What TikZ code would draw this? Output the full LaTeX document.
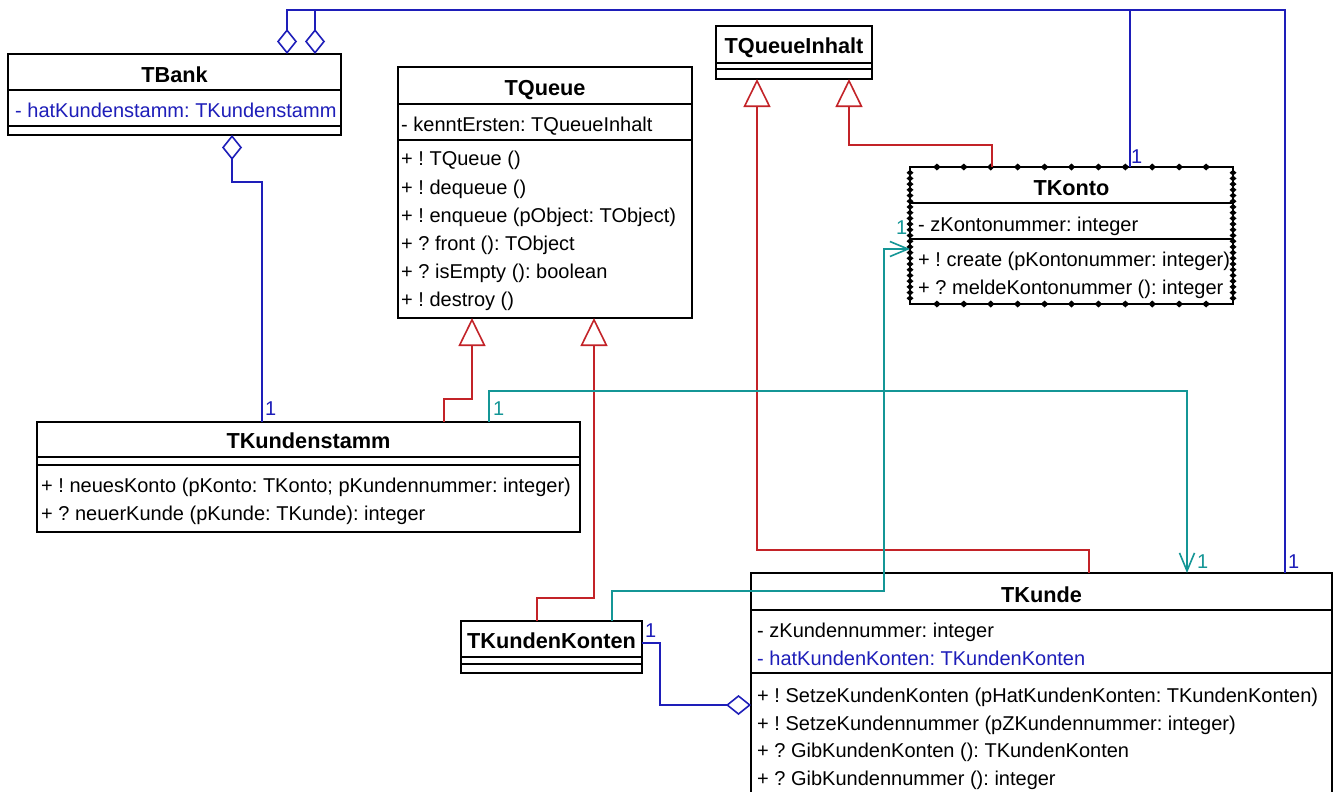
\documentclass[tikz,border=0pt]{standalone}
\usepackage{fontspec}
\setmainfont{Liberation Sans}
\usetikzlibrary{arrows.meta}
\definecolor{umlblue}{RGB}{30,30,185}
\definecolor{umlred}{RGB}{195,35,40}
\definecolor{umlteal}{RGB}{20,150,150}
\newcommand\umlrow{\fontsize{20}{24}\selectfont\frenchspacing}
\newcommand\umltitle{\fontsize{21.7}{26}\selectfont\bfseries}
\begin{document}
\frenchspacing
\begin{tikzpicture}[x=1pt,y=-1pt,
  classbox/.style={draw=black, line width=1.6pt, fill=white, inner sep=0pt, outer sep=0pt, anchor=north west},
  ttl/.style={font=\umltitle, anchor=base, inner sep=0pt},
  row/.style={font=\umlrow, anchor=base west, inner sep=0pt},
  blrow/.style={row, text=umlblue},
  mult/.style={font=\umlrow, anchor=base west, inner sep=0pt},
  sep/.style={line width=1.6pt},
  conn/.style={line width=1.6pt, line join=miter},
  aggr/.style={conn, umlblue, {Diamond[open,length=25pt,width=20pt]}-},
  gen/.style={conn, umlred, -{Triangle[open,length=28pt,width=27pt]}},
  nav/.style={conn, umlteal, -{Straight Barb[length=18pt,width=15pt]}}
]
\path[use as bounding box] (0,0) rectangle (1338,792);
\clip (0,0) rectangle (1338,792);
\fill[white] (0,0) rectangle (1338,792);

% ---------- TBank
\node[classbox, minimum width=333pt, minimum height=81pt] (tbank) at (8,54) {};
\draw[sep] ([yshift=-36pt]tbank.north west) -- ([yshift=-36pt]tbank.north east);
\draw[sep] ([yshift=-72pt]tbank.north west) -- ([yshift=-72pt]tbank.north east);
\node[ttl] (tbankT) at (174.5,82) {TBank};
\node[blrow] (tbankA1) at (15,117) {- hatKundenstamm: TKundenstamm};

% ---------- TQueue
\node[classbox, minimum width=294pt, minimum height=251pt] (tq) at (398,67) {};
\draw[sep] ([yshift=-37pt]tq.north west) -- ([yshift=-37pt]tq.north east);
\draw[sep] ([yshift=-73pt]tq.north west) -- ([yshift=-73pt]tq.north east);
\node[ttl] (tqT) at (545,95) {TQueue};
\node[row] (tqA1) at (401,131) {- kenntErsten: TQueueInhalt};
\node[row] (tqM1) at (401,165) {+ ! TQueue ()};
\node[row] (tqM2) at (401,194) {+ ! dequeue ()};
\node[row] (tqM3) at (401,222) {+ ! enqueue (pObject: TObject)};
\node[row] (tqM4) at (401,250) {+ ? front (): TObject};
\node[row] (tqM5) at (401,278) {+ ? isEmpty (): boolean};
\node[row] (tqM6) at (401,306) {+ ! destroy ()};

% ---------- TQueueInhalt
\node[classbox, minimum width=156pt, minimum height=53pt] (tqi) at (716,26) {};
\draw[sep] ([yshift=-37pt]tqi.north west) -- ([yshift=-37pt]tqi.north east);
\draw[sep] ([yshift=-43pt]tqi.north west) -- ([yshift=-43pt]tqi.north east);
\node[ttl] (tqiT) at (794,53) {TQueueInhalt};

% ---------- TKonto
\node[classbox, minimum width=323pt, minimum height=137pt] (tkonto) at (910,167) {};
\draw[sep] ([yshift=-36pt]tkonto.north west) -- ([yshift=-36pt]tkonto.north east);
\draw[sep] ([yshift=-72pt]tkonto.north west) -- ([yshift=-72pt]tkonto.north east);
\node[ttl] (tkontoT) at (1071.5,195) {TKonto};
\node[row] (tkontoA1) at (918,231) {- zKontonummer: integer};
\node[row] (tkontoM1) at (918,266) {+ ! create (pKontonummer: integer)};
\node[row] (tkontoM2) at (918,294) {+ ? meldeKontonummer (): integer};
\foreach \i in {1,...,11}{
  \fill[black] ([xshift={\i*26.917pt}]tkonto.north west) ++(-3.8,0) -- ++(3.8,-3.5) -- ++(3.8,3.5) -- ++(-3.8,3.5) -- cycle;
  \fill[black] ([xshift={\i*26.917pt}]tkonto.south west) ++(-3.8,0) -- ++(3.8,-3.5) -- ++(3.8,3.5) -- ++(-3.8,3.5) -- cycle;
}
\foreach \i in {1,...,23}{
  \fill[black] ([yshift={-\i*5.708pt}]tkonto.north west) ++(-3.5,0) -- ++(3.5,-3) -- ++(3.5,3) -- ++(-3.5,3) -- cycle;
  \fill[black] ([yshift={-\i*5.708pt}]tkonto.north east) ++(-3.5,0) -- ++(3.5,-3) -- ++(3.5,3) -- ++(-3.5,3) -- cycle;
}

% ---------- TKundenstamm
\node[classbox, minimum width=543pt, minimum height=110pt] (tks) at (37,422) {};
\draw[sep] ([yshift=-35pt]tks.north west) -- ([yshift=-35pt]tks.north east);
\draw[sep] ([yshift=-43pt]tks.north west) -- ([yshift=-43pt]tks.north east);
\node[ttl] (tksT) at (308.5,448) {TKundenstamm};
\node[row] (tksM1) at (41,492) {+ ! neuesKonto (pKonto: TKonto; pKundennummer: integer)};
\node[row] (tksM2) at (41,520) {+ ? neuerKunde (pKunde: TKunde): integer};

% ---------- TKundenKonten
\node[classbox, minimum width=181pt, minimum height=52pt] (tkk) at (461,621) {};
\draw[sep] ([yshift=-36pt]tkk.north west) -- ([yshift=-36pt]tkk.north east);
\draw[sep] ([yshift=-43pt]tkk.north west) -- ([yshift=-43pt]tkk.north east);
\node[ttl] (tkkT) at (551.5,648) {TKundenKonten};

% ---------- TKunde
\node[classbox, minimum width=581pt, minimum height=240pt] (tku) at (751,573) {};
\draw[sep] ([yshift=-37pt]tku.north west) -- ([yshift=-37pt]tku.north east);
\draw[sep] ([yshift=-100pt]tku.north west) -- ([yshift=-100pt]tku.north east);
\node[ttl] (tkuT) at (1041.5,602) {TKunde};
\node[row] (tkuA1) at (757,637) {- zKundennummer: integer};
\node[blrow] (tkuA2) at (757,665) {- hatKundenKonten: TKundenKonten};
\node[row] (tkuM1) at (757,702) {+ ! SetzeKundenKonten (pHatKundenKonten: TKundenKonten)};
\node[row] (tkuM2) at (757,730) {+ ! SetzeKundennummer (pZKundennummer: integer)};
\node[row] (tkuM3) at (757,757) {+ ? GibKundenKonten (): TKundenKonten};
\node[row] (tkuM4) at (757,785) {+ ? GibKundennummer (): integer};

% ---------- attachment points
\coordinate (topy) at (0,10);
\coordinate (bA) at ([xshift=279pt]tbank.north west);
\coordinate (bB) at ([xshift=307pt]tbank.north west);
\coordinate (bS) at ([xshift=224pt]tbank.south west);
\coordinate (kuB) at ([xshift=534pt]tku.north west);
\coordinate (koB) at ([xshift=220pt]tkonto.north west);
\coordinate (ksB) at ([xshift=225pt]tks.north west);
\coordinate (qiA) at ([xshift=41pt]tqi.south west);
\coordinate (qiB) at ([xshift=133pt]tqi.south west);
\coordinate (koR) at ([xshift=82pt]tkonto.north west);
\coordinate (kuR) at ([xshift=338pt]tku.north west);
\coordinate (qA) at ([xshift=74pt]tq.south west);
\coordinate (qB) at ([xshift=196pt]tq.south west);
\coordinate (ksR) at ([xshift=407pt]tks.north west);
\coordinate (kkR) at ([xshift=76pt]tkk.north west);
\coordinate (ksT) at ([xshift=452pt]tks.north west);
\coordinate (kuT) at ([xshift=436pt]tku.north west);
\coordinate (kkT) at ([xshift=151pt]tkk.north west);
\coordinate (koT) at ([yshift=-82pt]tkonto.north west);
\coordinate (kuA) at ([yshift=-132pt]tku.north west);
\coordinate (kkA) at ([yshift=-22pt]tkk.north east);

% ---------- aggregations (blue)
\draw[aggr] (bS) -- ++(0,47) -| (ksB);
\draw[aggr] (bA) -- (bA |- topy) -| (kuB);
\draw[aggr] (bB) -- (bB |- topy) -| (koB);
\draw[aggr] (kuA) -- ++(-91,0) |- (kkA);

% ---------- generalizations (red)
\draw[gen] (koR) -- ++(0,-22) -| (qiB);
\draw[gen] (kuR) -- ++(0,-23) -| (qiA);
\draw[gen] (ksR) -- ++(0,-23) -| (qA);
\draw[gen] (kkR) -- ++(0,-23) -| (qB);

% ---------- navigable associations (teal)
\draw[nav] (ksT) -- ++(0,-31) -| (kuT);
\draw[nav] (kkT) -- ++(0,-30) -- ++(272,0) |- (koT);

% ---------- multiplicities
\node[mult, text=umlblue] (m1) at (265,415) {1};
\node[mult, text=umlteal] (m2) at (493,415) {1};
\node[mult, text=umlteal] (m3) at (1197,568) {1};
\node[mult, text=umlblue] (m4) at (1288,568) {1};
\node[mult, text=umlblue] (m5) at (1131,163) {1};
\node[mult, text=umlteal] (m6) at (896,234) {1};
\node[mult, text=umlblue] (m7) at (645,637) {1};
\end{tikzpicture}
\end{document}
